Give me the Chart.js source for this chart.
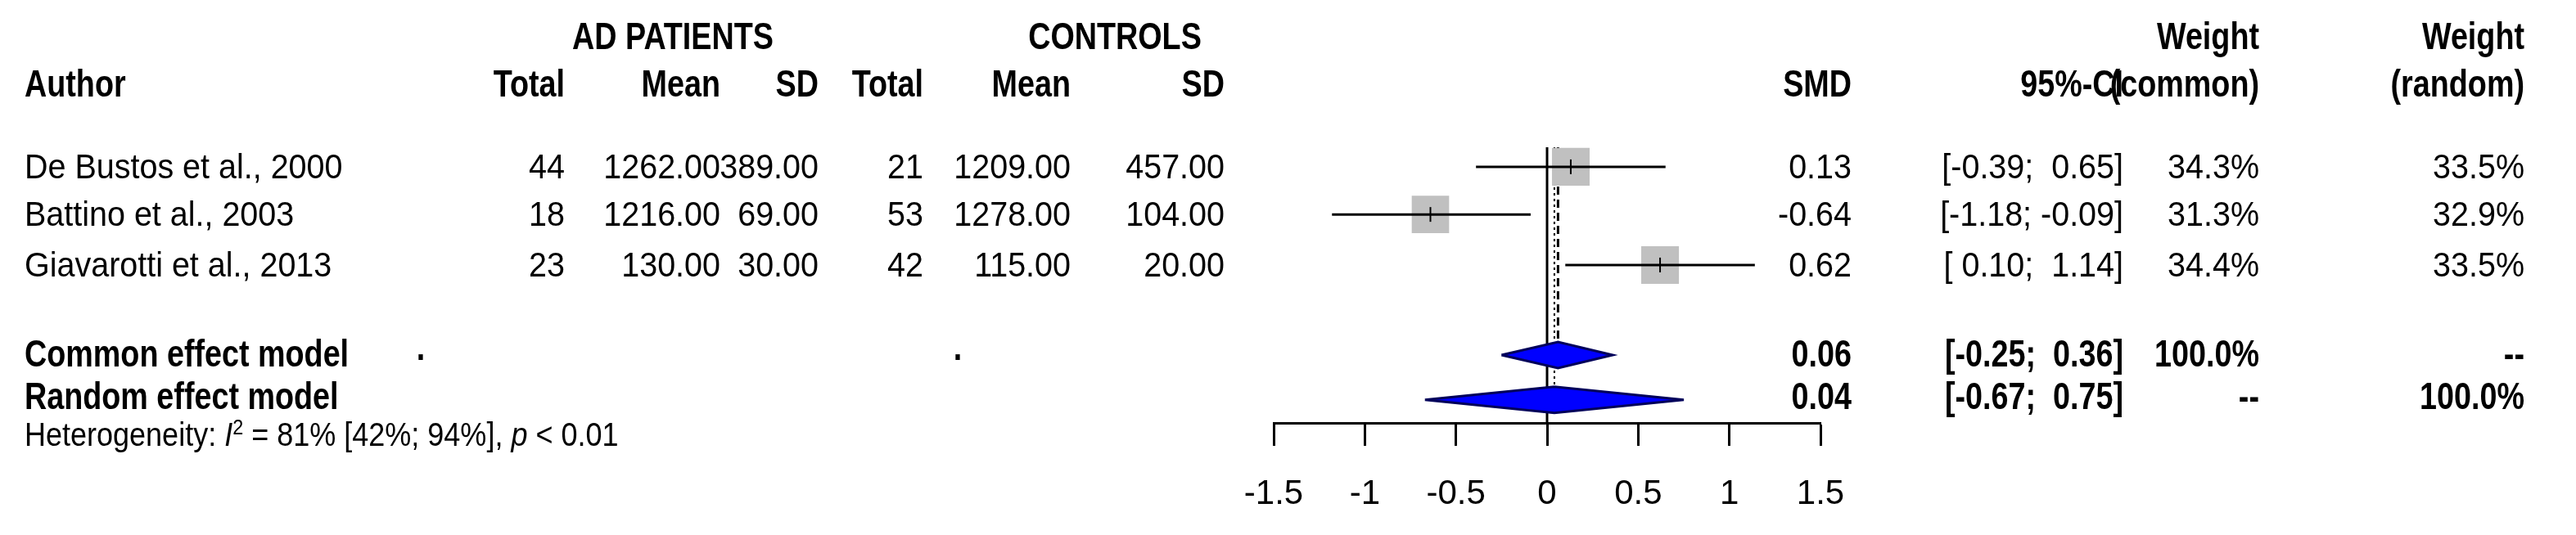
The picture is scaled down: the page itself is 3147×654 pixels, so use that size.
<!DOCTYPE html>
<html lang="en">
<head>
<meta charset="UTF-8">
<title>Forest plot</title>
<script src="https://cdn.jsdelivr.net/npm/chart.js@4.4.1/dist/chart.umd.min.js"></script>
<style>
  body { margin: 0; background: #fff; }
  #wrap { position: relative; width: 3147px; height: 654px; overflow: hidden; font-family: "Liberation Sans", Arial, sans-serif; color: #000; }
  #plot { position: absolute; left: 0; top: 0; }
  .t { position: absolute; white-space: pre; font-size: 42px; line-height: 1; --sx: 0.94; }
  .b { font-weight: bold; font-size: 46px; --sx: 0.82; }
  .h { font-size: 40px; --sx: 0.9; }
  .r { transform: translate(-100%, -50%) scaleX(var(--sx)); transform-origin: right center; }
  .c { transform: translate(-50%, -50%) scaleX(var(--sx)); transform-origin: center center; }
  .l { transform: translate(0, -50%) scaleX(var(--sx)); transform-origin: left center; }
</style>
</head>
<body>
<div id="wrap">
  <canvas id="plot" width="3147" height="654"></canvas>
</div>
<script>
// study data
const authors = ['De Bustos et al., 2000', 'Battino et al., 2003', 'Giavarotti et al., 2013'];
const adTotal = [44, 18, 23];
const adMean = [1262.00, 1216.00, 130.00];
const adSD = [389.00, 69.00, 30.00];
const ctTotal = [21, 53, 42];
const ctMean = [1209.00, 1278.00, 115.00];
const ctSD = [457.00, 104.00, 20.00];
const smd = [0.13, -0.64, 0.62];
const ciLo = [-0.39, -1.18, 0.10];
const ciHi = [0.65, -0.09, 1.14];
const wCommon = [34.3, 31.3, 34.4];
const wRandom = [33.5, 32.9, 33.5];

// pooled estimates
const models = ['Common effect model', 'Random effect model'];
const poolEst = [0.06, 0.04];
const poolLo = [-0.25, -0.67];
const poolHi = [0.36, 0.75];
const poolWCommon = ['100.0%', '--'];
const poolWRandom = ['--', '100.0%'];

const xTicks = [-1.5, -1, -0.5, 0, 0.5, 1, 1.5];

// layout (row positions in y units of the plot, 0 at top)
const studyRowY = [1.13, 2.78, 4.53];
const poolRowY = [7.65, 9.2];
const rowPx = [204, 262, 324];
const poolPx = [432, 484];

const wrap = document.getElementById('wrap');
function txt(s, x, y, cls) {
  const d = document.createElement('div');
  d.className = 't ' + cls;
  d.style.left = x + 'px';
  d.style.top = y + 'px';
  d.innerHTML = s;
  wrap.appendChild(d);
}
const f2 = v => v.toFixed(2);
const ci = (lo, hi) => '[' + (lo < 0 ? '' : ' ') + f2(lo) + '; ' + (hi < 0 ? '' : ' ') + f2(hi) + ']';

// headers
txt('AD PATIENTS', 822, 44, 'c b');
txt('CONTROLS', 1362, 44, 'c b');
txt('Weight', 2760, 44, 'r b');
txt('Weight', 3084, 44, 'r b');
txt('Author', 30, 102, 'l b');
[['Total', 690], ['Mean', 880], ['SD', 1000], ['Total', 1128], ['Mean', 1308], ['SD', 1496],
 ['SMD', 2262], ['95%-CI', 2594], ['(common)', 2760], ['(random)', 3084]].forEach(h => txt(h[0], h[1], 102, 'r b'));

authors.forEach((a, i) => {
  const y = rowPx[i];
  txt(a, 30, y, 'l');
  txt(String(adTotal[i]), 690, y, 'r');
  txt(f2(adMean[i]), 880, y, 'r');
  txt(f2(adSD[i]), 1000, y, 'r');
  txt(String(ctTotal[i]), 1128, y, 'r');
  txt(f2(ctMean[i]), 1308, y, 'r');
  txt(f2(ctSD[i]), 1496, y, 'r');
  txt(f2(smd[i]), 2262, y, 'r');
  txt(ci(ciLo[i], ciHi[i]), 2594, y, 'r');
  txt(wCommon[i].toFixed(1) + '%', 2760, y, 'r');
  txt(wRandom[i].toFixed(1) + '%', 3084, y, 'r');
});
models.forEach((m, i) => {
  const y = poolPx[i];
  txt(m, 30, y, 'l b');
  txt(f2(poolEst[i]), 2262, y, 'r b');
  txt(ci(poolLo[i], poolHi[i]), 2594, y, 'r b');
  txt(poolWCommon[i], 2760, y, 'r b');
  txt(poolWRandom[i], 3084, y, 'r b');
});
txt('.', 514, 424, 'c b');
txt('.', 1170, 424, 'c b');
txt('Heterogeneity: <i>I</i><sup style="font-size:26px">2</sup> = 81% [42%; 94%], <i>p</i> &lt; 0.01', 30, 530, 'l h');

// datasets
const datasets = [];
// CI whiskers (on top of squares)
authors.forEach((a, i) => {
  datasets.push({ type: 'line', data: [{ x: ciLo[i], y: studyRowY[i] }, { x: ciHi[i], y: studyRowY[i] }],
    borderColor: '#000', borderWidth: 3, pointRadius: 0, order: 1 });
});
// estimate ticks
datasets.push({ type: 'scatter', data: smd.map((v, i) => ({ x: v, y: studyRowY[i] })),
  pointStyle: 'line', rotation: 90, radius: 9, borderColor: '#000', borderWidth: 2, order: 0 });
// squares sized by weight
datasets.push({ type: 'scatter', data: smd.map((v, i) => ({ x: v, y: studyRowY[i] })),
  pointStyle: 'rect', pointRadius: wRandom.map(w => 33 * Math.sqrt(w / 34.4)),
  backgroundColor: '#c0c0c0', borderColor: '#c0c0c0', borderWidth: 0, order: 3 });
// reference lines
datasets.push({ type: 'line', data: [{ x: 0, y: 0.45 }, { x: 0, y: 10 }], borderColor: '#000', borderWidth: 3, pointRadius: 0, order: 4 });
datasets.push({ type: 'line', data: [{ x: poolEst[0], y: 0.45 }, { x: poolEst[0], y: poolRowY[0] }], borderColor: '#000', borderWidth: 3, borderDash: [10, 6], pointRadius: 0, order: 4 });
datasets.push({ type: 'line', data: [{ x: poolEst[1], y: 0.45 }, { x: poolEst[1], y: poolRowY[1] }], borderColor: '#000', borderWidth: 2, borderDash: [3, 4], pointRadius: 0, order: 4 });
// diamonds
const dh = 0.45;
poolEst.forEach((e, i) => {
  const y = poolRowY[i];
  datasets.push({ type: 'line', data: [
      { x: poolLo[i], y: y }, { x: e, y: y - dh }, { x: poolHi[i], y: y }, { x: e, y: y + dh }, { x: poolLo[i], y: y }],
    borderColor: '#00005a', borderWidth: 3, backgroundColor: '#0000ff', fill: 'shape', pointRadius: 0, tension: 0, order: 2 });
});

new Chart(document.getElementById('plot'), {
  type: 'scatter',
  data: { datasets },
  options: {
    responsive: false,
    devicePixelRatio: 1,
    animation: false,
    events: [],
    layout: { padding: { left: 1556, right: 923, top: 164, bottom: 0 } },
    plugins: { legend: { display: false }, tooltip: { enabled: false }, filler: { propagate: false } },
    scales: {
      x: {
        type: 'linear', min: -1.5, max: 1.5,
        afterBuildTicks: s => { s.ticks = xTicks.map(v => ({ value: v })); },
        afterFit: s => { s.height = 137; },
        grid: { drawOnChartArea: false, drawTicks: true, tickLength: 28, tickWidth: 3, tickColor: '#000' },
        border: { display: true, color: '#000', width: 3 },
        ticks: { color: '#000', padding: 34, maxRotation: 0, autoSkip: false,
          font: { family: 'Liberation Sans', size: 42 }, callback: v => String(v) }
      },
      y: { type: 'linear', min: 0, max: 10, reverse: true, display: false }
    }
  }
});
</script>
</body>
</html>
